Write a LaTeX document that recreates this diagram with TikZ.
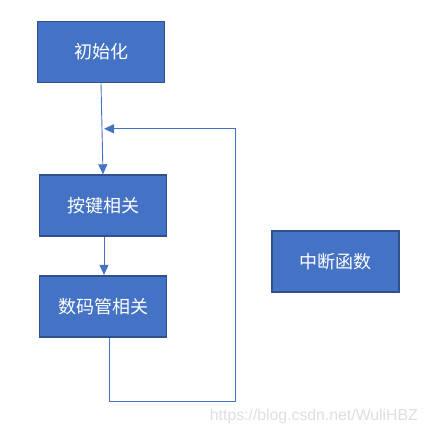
\documentclass[tikz,border=0pt]{standalone}
\usepackage{fontspec}
\setsansfont{Liberation Sans}
\newfontfamily\cjk{Noto Sans CJK SC}
\usetikzlibrary{arrows.meta, positioning, calc}

\definecolor{boxblue}{RGB}{68,114,196}
\definecolor{boxedge}{RGB}{47,82,143}

\begin{document}
\begin{tikzpicture}[
            x=1pt, y=1pt,
            node distance=91pt,
            block/.style={rectangle, draw=boxedge, fill=boxblue,
                line width=1.6pt, text=white,
                minimum width=127pt, minimum height=61pt,
                font=\cjk\fontsize{18}{20}\selectfont
            },
            line/.style={draw=boxblue, line width=0.9pt,
                -{Triangle[width=9pt,length=10pt]}
            }
        ]
            \useasboundingbox (0,0) rectangle (428,-434);

            % Đặt các node
            \node [block] (init) at (101,-52) {初始化};
            \node [block, below=91pt of init, xshift=2pt] (keys) {按键相关};
            \node [block, below=38pt of keys] (seg) {数码管相关};
            \node [block] (irq) at (335.5,-261.5) {中断函数};

            % chỗ nối vòng lặp
            \coordinate (join) at ($(init.south)!0.5!(keys.north)$);

            % Vẽ các mũi tên
            \path [line] (init.south) -- (keys.north);
            \path [line] ([xshift=1pt]keys.south) -- ([xshift=1pt]seg.north);
            \path [line] ([xshift=6pt]seg.south) -- ++(0,-64) -| ([xshift=133pt]join) -- ([xshift=2pt]join);

            \node [anchor=east, text=black!13, font=\sffamily\fontsize{15.8}{17}\selectfont, inner sep=0pt] (mark) at (418,-416) {https://blog.csdn.net/WuliHBZ};
        \end{tikzpicture}
\end{document}
